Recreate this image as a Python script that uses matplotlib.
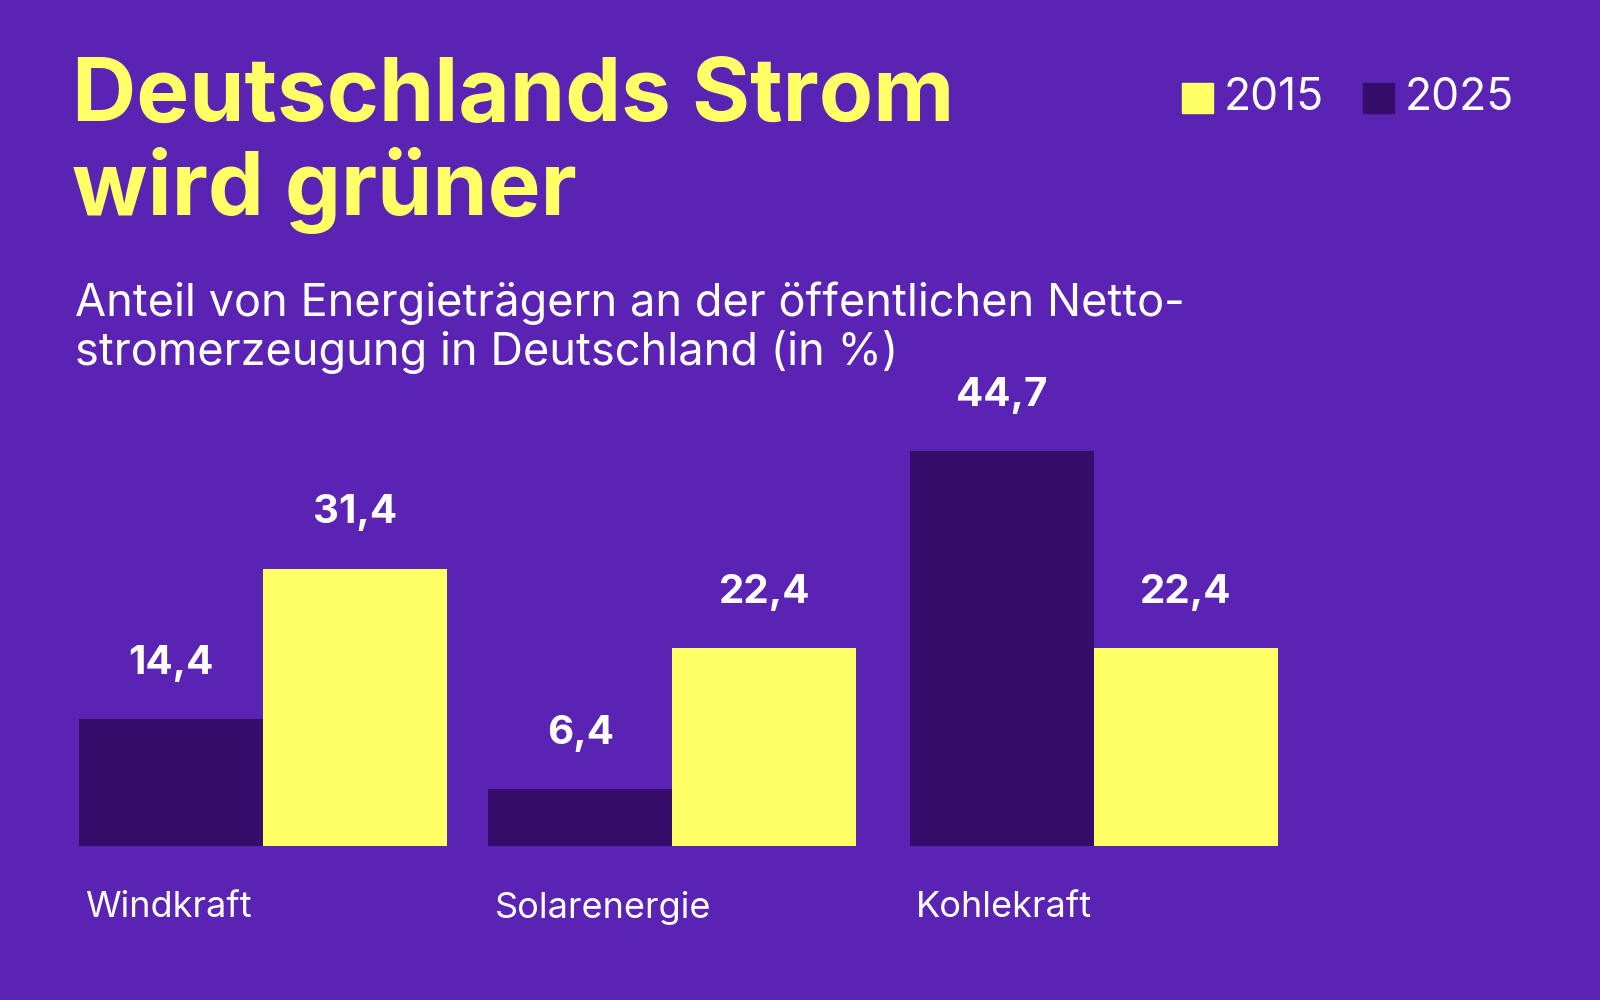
"""Grouped bar chart: share of energy sources in German net power generation."""

import matplotlib.pyplot as plt

CATEGORIES = ["Windkraft", "Solarenergie", "Kohlekraft"]
VALUES_DARK = [14.4, 6.4, 44.7]
VALUES_YELLOW = [31.4, 22.4, 22.4]
LEGEND_LABELS = ["2015", "2025"]

BG = "#5A23B4"
DARK = "#360D6B"
YELLOW = "#FFFF66"
FONT = ["Inter", "DejaVu Sans"]


def fmt(v):
    return f"{v:.1f}".replace(".", ",")


def main():
    fig = plt.figure(figsize=(16, 10), dpi=100, facecolor=BG)
    ax = fig.add_axes([0, 0, 1, 1])
    ax.set_facecolor(BG)
    ax.axis("off")

    width = 0.443
    pos = [0, 0.985, 2.0]
    ax.bar([p - width / 2 for p in pos], VALUES_DARK, width=width, color=DARK)
    ax.bar([p + width / 2 for p in pos], VALUES_YELLOW, width=width, color=YELLOW)
    ax.set_xlim(-0.634, 3.219)
    ax.set_ylim(-17.46, 95.8)

    for p, v in zip(pos, VALUES_DARK):
        ax.text(p - width / 2, v + 6.3, fmt(v), ha="center", va="center",
                color="white", fontsize=29, fontweight="bold", family=FONT)
    for p, v in zip(pos, VALUES_YELLOW):
        ax.text(p + width / 2, v + 6.3, fmt(v), ha="center", va="center",
                color="white", fontsize=29, fontweight="bold", family=FONT)
    for p, c in zip(pos, CATEGORIES):
        ax.text(p - width + 0.015, -7, c, ha="left", va="center",
                color="white", fontsize=26, family=FONT)

    fig.text(0.045, 0.855, "Deutschlands Strom\nwird grüner", ha="left", va="center",
             color=YELLOW, fontsize=64, fontweight="bold", family=FONT, linespacing=1.12)
    fig.text(0.047, 0.672, "Anteil von Energieträgern an der öffentlichen Netto-\n"
             "stromerzeugung in Deutschland (in %)", ha="left", va="center",
             color="white", fontsize=32.5, family=FONT, linespacing=1.15)

    # legend
    fig.patches.append(plt.Rectangle((0.739, 0.887), 0.019, 0.03, color=YELLOW,
                                     transform=fig.transFigure, figure=fig))
    fig.text(0.765, 0.902, LEGEND_LABELS[0], ha="left", va="center",
             color="white", fontsize=32, family=FONT)
    fig.patches.append(plt.Rectangle((0.852, 0.887), 0.019, 0.03, color=DARK,
                                     transform=fig.transFigure, figure=fig))
    fig.text(0.878, 0.902, LEGEND_LABELS[1], ha="left", va="center",
             color="white", fontsize=32, family=FONT)

    fig.savefig("out.png", dpi=100, facecolor=BG)
    plt.close(fig)


if __name__ == "__main__":
    main()
